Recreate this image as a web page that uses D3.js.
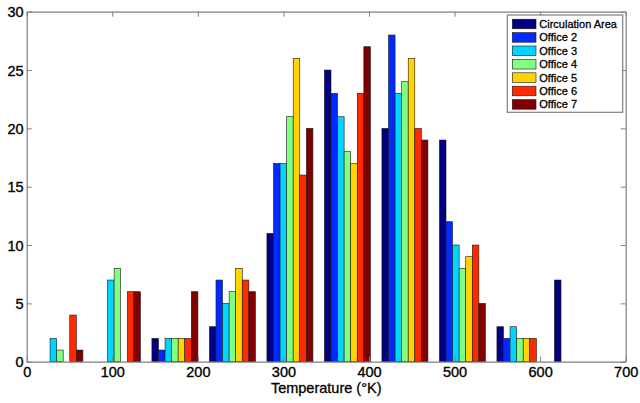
<!DOCTYPE html>
<html>
<head>
<meta charset="utf-8">
<script src="https://cdn.jsdelivr.net/npm/d3@7"></script>
<style>
html,body{margin:0;padding:0;background:#fff;}
svg{display:block;}
text{font-family:"Liberation Sans",Arial,sans-serif;fill:#000;}
</style>
</head>
<body>
<svg id="chart" width="640" height="403"></svg>
<script>
// ---- data ----
const binCenters = [38.8, 106, 173.2, 240.4, 307.6, 374.8, 442, 509.2, 576.4, 643.6];
const binWidth = 67.2;
const seriesNames = ["Circulation Area","Office 2","Office 3","Office 4","Office 5","Office 6","Office 7"];
const seriesColors = ["#000080","#002AFF","#00D4FF","#80FF80","#FFD400","#FF2A00","#800000"];
const circulationArea = [0, 0, 2, 3, 11, 25, 20, 19, 3, 7];
const office2 = [0, 0, 1, 7, 17, 23, 28, 12, 2, 0];
const office3 = [2, 7, 2, 5, 17, 21, 23, 10, 3, 0];
const office4 = [1, 8, 2, 6, 21, 18, 24, 8, 2, 0];
const office5 = [0, 0, 2, 8, 26, 17, 26, 9, 2, 0];
const office6 = [4, 6, 2, 7, 16, 23, 20, 10, 2, 0];
const office7 = [1, 6, 6, 6, 20, 27, 19, 5, 0, 0];
const xTicks = [0, 100, 200, 300, 400, 500, 600, 700];
const yTicks = [0, 5, 10, 15, 20, 25, 30];
const xLabel = "Temperature (°K)";

const seriesValues = [circulationArea, office2, office3, office4, office5, office6, office7];

// ---- layout ----
const L = 26.7, R = 625.7, T = 11.7, B = 361.7;
const svg = d3.select("#chart");
const x = d3.scaleLinear().domain([0, 700]).range([L, R]);
const y = d3.scaleLinear().domain([0, 30]).range([B, T]);

const groupW = x(binWidth * 0.8) - x(0);
const barW = groupW / seriesNames.length;

// bars
const barsG = svg.append("g");
seriesValues.forEach((vals, j) => {
  barsG.selectAll(null)
    .data(vals.map((v, i) => ({v, c: binCenters[i]})).filter(d => d.v > 0))
    .enter().append("rect")
    .attr("x", d => x(d.c) - groupW / 2 + j * barW)
    .attr("y", d => y(d.v))
    .attr("width", barW)
    .attr("height", d => y(0) - y(d.v))
    .attr("fill", seriesColors[j])
    .attr("stroke", "#1a1a1a")
    .attr("stroke-width", 0.6);
});

// axes (MATLAB style box with inward ticks)
const axisColor = "#7f7f7f";
const tickLen = 5;
const axG = svg.append("g");
const xb = axG.append("g").attr("transform", `translate(0,${B})`)
  .call(d3.axisBottom(x).tickValues(xTicks).tickSizeInner(-tickLen).tickSizeOuter(0).tickPadding(5));
const xt = axG.append("g").attr("transform", `translate(0,${T})`)
  .call(d3.axisTop(x).tickValues(xTicks).tickSizeInner(-tickLen).tickSizeOuter(0).tickFormat(""));
const yl = axG.append("g").attr("transform", `translate(${L},0)`)
  .call(d3.axisLeft(y).tickValues(yTicks).tickSizeInner(-tickLen).tickSizeOuter(0).tickPadding(3));
const yr = axG.append("g").attr("transform", `translate(${R},0)`)
  .call(d3.axisRight(y).tickValues(yTicks).tickSizeInner(-tickLen).tickSizeOuter(0).tickFormat(""));

[xb, xt, yl, yr].forEach(g => {
  g.selectAll(".domain").attr("stroke", axisColor).attr("stroke-width", 1.2);
  g.selectAll(".tick line").attr("stroke", axisColor).attr("stroke-width", 1);
  g.selectAll("text").attr("font-size", 14.5).attr("font-family", "Liberation Sans, Arial, sans-serif")
    .attr("fill", "#000").attr("stroke", "#000").attr("stroke-width", 0.35);
});
xb.selectAll("text").attr("dy", "0.71em");
yl.selectAll("text").attr("dy", "0.36em");

// x axis label
svg.append("text")
  .attr("x", (L + R) / 2)
  .attr("y", 393)
  .attr("text-anchor", "middle")
  .attr("font-size", 14.5)
  .attr("stroke", "#000").attr("stroke-width", 0.3)
  .text(xLabel);

// legend
const lgX = 507.3, lgY = 15, lgW = 115.4, lgH = 97.3;
const lg = svg.append("g");
lg.append("rect").attr("x", lgX).attr("y", lgY).attr("width", lgW).attr("height", lgH)
  .attr("fill", "#fff").attr("stroke", axisColor).attr("stroke-width", 1.2);
const rowH = 13.4;
seriesNames.forEach((name, j) => {
  const cy = lgY + 9 + j * rowH;
  lg.append("rect").attr("x", lgX + 5).attr("y", cy - 4.8).attr("width", 23.7).attr("height", 9.6)
    .attr("fill", seriesColors[j]).attr("stroke", "#1a1a1a").attr("stroke-width", 0.6);
  lg.append("text").attr("x", lgX + 32).attr("y", cy).attr("dy", "0.36em")
    .attr("font-size", 11).attr("stroke", "#000").attr("stroke-width", 0.3)
    .text(name);
});
</script>
</body>
</html>
